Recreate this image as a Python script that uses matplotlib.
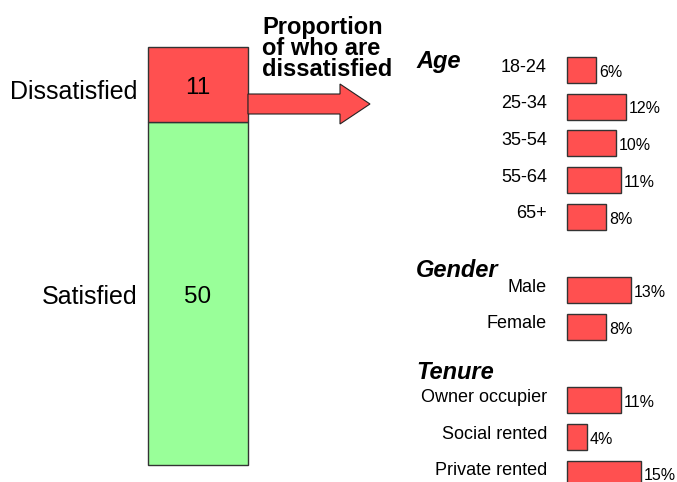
import matplotlib
matplotlib.use("Agg")
import matplotlib.pyplot as plt
from matplotlib.patches import FancyArrow

plt.rcParams["font.family"] = ["Liberation Sans", "DejaVu Sans"]

# overall split
overall_labels = ["Satisfied", "Dissatisfied"]
overall_values = [50, 11]

# share dissatisfied by group (%)
groups = ["Age", "Gender", "Tenure"]
group_rows = [-0.22, 5.45, 8.23]
sub_labels = ["18-24", "25-34", "35-54", "55-64", "65+",
              "Male", "Female",
              "Owner occupier", "Social rented", "Private rented"]
sub_rows = [0, 1, 2, 3, 4, 6, 7, 9, 10, 11]
sub_values = [6, 12, 10, 11, 8, 13, 8, 11, 4, 15]

RED = "#ff5050"
GREEN = "#99ff99"
EDGE = "#333333"

W, H = 677, 482
fig = plt.figure(figsize=(W / 100, H / 100), dpi=100)

# stacked bar on the left
axl = fig.add_axes([148 / W, 17 / H, 100 / W, 418 / H])
axl.bar([0], [overall_values[0]], width=1, color=GREEN, edgecolor=EDGE,
        linewidth=1, clip_on=False)
axl.bar([0], [overall_values[1]], bottom=overall_values[0], width=1,
        color=RED, edgecolor=EDGE, linewidth=1, clip_on=False)
axl.set_xlim(-0.5, 0.5)
axl.set_ylim(0, sum(overall_values))
axl.axis("off")

bottom = 0
for lab, val in zip(overall_labels, overall_values):
    mid = bottom + val / 2
    axl.text(0, mid - 0.5, str(val), ha="center", va="center", fontsize=17.5)
    axl.text(-0.61, mid - 0.5 - (0.6 if val < 20 else 0), lab, ha="right",
             va="center", fontsize=18, clip_on=False)
    bottom += val

# arrow pointing from the dissatisfied block to the breakdown
arrow = FancyArrow(2.48, 3.78, 1.22, 0, width=0.20, head_width=0.40,
                   head_length=0.30, length_includes_head=True,
                   facecolor=RED, edgecolor="#222222", linewidth=0.8,
                   transform=fig.dpi_scale_trans)
fig.add_artist(arrow)
fig.text(262 / W, 1 - 16 / H, "Proportion\nof who are\ndissatisfied",
         ha="left", va="top", fontsize=17, fontweight="bold", linespacing=0.9)

# breakdown bars on the right
px_per_pct = 4.9
row_px = 36.7
axr = fig.add_axes([400 / W, 0, 277 / W, 1])
axr.barh(sub_rows, sub_values, height=0.71, left=0, color=RED,
         edgecolor=EDGE, linewidth=1)
axr.set_xlim(-167 / px_per_pct, 110 / px_per_pct)
axr.set_ylim((H - 70) / row_px, -70 / row_px)
axr.axis("off")

for lab, r, v in zip(sub_labels, sub_rows, sub_values):
    axr.text(-20 / px_per_pct, r - 0.08, lab, ha="right", va="center", fontsize=13)
    axr.text(v + 0.6, r + 0.06, f"{v}%", ha="left", va="center", fontsize=11.5)

for g, r in zip(groups, group_rows):
    axr.text(-151 / px_per_pct, r, g, ha="left", va="center", fontsize=17,
             fontweight="bold", fontstyle="italic")

fig.savefig("out.png", dpi=100)
